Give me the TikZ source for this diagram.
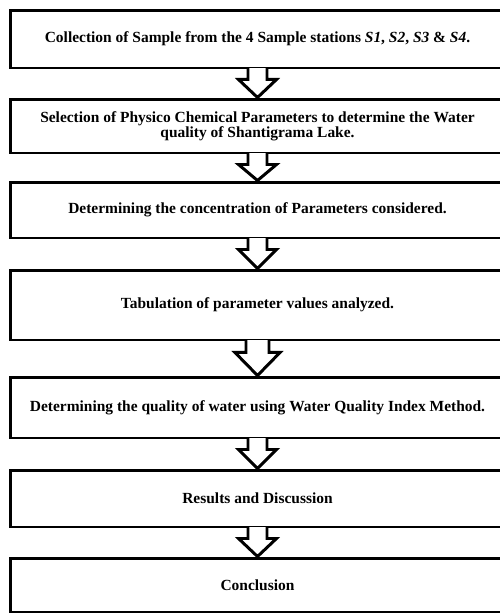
\documentclass[tikz,border=0pt]{standalone}
\usepackage{fontspec}
\setmainfont{Liberation Serif}
\usetikzlibrary{calc}
\tikzset{
	stagebox/.style={draw, line width=1.7pt, minimum width=9.9cm, inner sep=0pt, align=center, font=\bfseries\fontsize{8.8}{8.4}\selectfont},
	flowline/.style={line width=1.7pt, line join=miter}
}
% block arrow from box (#1) down to box (#2): stem half width, head half width, stem length
\def\blockarrow(#1)(#2)(#3:#4:#5){%
	\fill[white] ($(#1.south)+(-#3,-1.5)$) rectangle ($(#1.south)+(#3,#5)$);
	\draw[flowline] ($(#1.south)+(-#3,-1.5)$) -- ++(0,#5+1.5) -- ++(#3-#4,0) -- (#2.north) -- ($(#1.south)+(#4,#5)$) -- ++(#3-#4,0) -- ++(0,-#5-1.5);}

\begin{document}
\begin{tikzpicture}[x=0.02cm, y=-0.02cm]
		%%%%% START %%%%%
		\useasboundingbox[fill=white] (0, 0) rectangle (500, 613);
		
		\node[stagebox, minimum height=1.16cm] (collect) at (257.5, 39) {Collection of Sample from the 4 Sample stations \textit{S1}, \textit{S2}, \textit{S3} \& \textit{S4}.};
		\node[stagebox, minimum height=1.08cm] (select) at (257.5, 126) {Selection of Physico Chemical Parameters to determine the Water\\quality of Shantigrama Lake.};
		\node[stagebox, minimum height=1.12cm] (concen) at (257.5, 210) {Determining the concentration of Parameters considered.};
		\node[stagebox, minimum height=1.4cm] (tabul) at (257.5, 305) {Tabulation of parameter values analyzed.};
		\node[stagebox, minimum height=1.22cm] (wqi) at (257.5, 407.5) {Determining the quality of water using Water Quality Index Method.};
		\node[stagebox, minimum height=1.14cm] (result) at (257.5, 498.5) {Results and Discussion};
		\node[stagebox, minimum height=1.08cm] (concl) at (257.5, 585) {Conclusion};
		
		\blockarrow(collect)(select)(9.5:19:10);
		\blockarrow(select)(concen)(9.5:19:10);
		\blockarrow(concen)(tabul)(9.5:19:10);
		\blockarrow(tabul)(wqi)(11.5:22.5:11);
		\blockarrow(wqi)(result)(9.5:19:10);
		\blockarrow(result)(concl)(9.5:19:10);
		
		%%%%% END %%%%%
	\end{tikzpicture}
\end{document}
